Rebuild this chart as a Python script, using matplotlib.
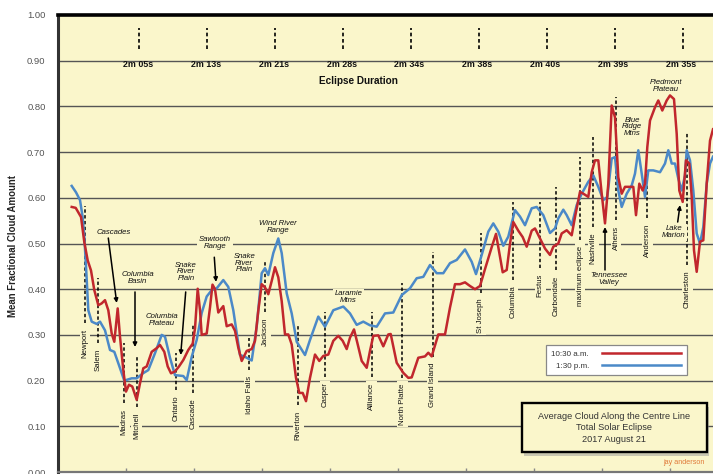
import matplotlib
matplotlib.use("Agg")
import matplotlib.pyplot as plt
from matplotlib.patches import Rectangle

plt.rcParams['font.family'] = ['Liberation Sans', 'DejaVu Sans']

# ---------------- data ----------------
# distance along the centre line (arbitrary units, west -> east)
x_pm = [13.7, 18, 22, 24.5, 26.3, 28.5, 30.3, 33.7, 38.7, 42,
        47, 52, 56.3, 60.3, 66.3, 73.7, 78.7, 85, 90.3, 97,
        103.7, 107, 112, 117, 125.3, 128.7, 133.7, 138.7, 143.7, 148.7,
        153.7, 158.7, 165.3, 170.3, 175.3, 182, 187, 193.7, 198.7, 203.7,
        207, 210.3, 215.3, 220.3, 223.7, 228.7, 233.7, 238.7, 247, 252,
        260.3, 267, 275.3, 285.3, 292, 298.7, 305.3, 312, 318.7, 327,
        335.3, 343.7, 352, 358.7, 365.3, 372, 378.7, 385.3, 392, 398.7,
        407, 413.7, 418, 423.7, 430.3, 435.3, 440.3, 445.3, 450.3, 457,
        462, 467, 473.7, 478.7, 485.3, 492, 497, 500.3, 505.3, 508.7,
        513.7, 518.7, 523.7, 530.3, 535.3, 540.3, 545.3, 549.3, 553.7, 557,
        560.3, 563.7, 568.7, 573.7, 577, 580.3, 583.7, 587, 590.3, 595.3,
        602, 607, 610.3, 613.7, 617, 620.3, 623.7, 627, 628.7, 632,
        635.3, 638.7, 642, 645.3, 648.7, 652, 655]
cloud_pm = [0.626, 0.612, 0.595, 0.56, 0.515, 0.43, 0.354, 0.329, 0.324, 0.329,
            0.31, 0.267, 0.263, 0.238, 0.2, 0.205, 0.205, 0.216, 0.223, 0.26,
            0.3, 0.296, 0.25, 0.212, 0.21, 0.201, 0.252, 0.289, 0.348, 0.384,
            0.398, 0.402, 0.42, 0.405, 0.354, 0.256, 0.252, 0.244, 0.318, 0.435,
            0.446, 0.431, 0.479, 0.511, 0.479, 0.391, 0.347, 0.285, 0.256, 0.289,
            0.34, 0.318, 0.354, 0.362, 0.347, 0.322, 0.329, 0.321, 0.318, 0.347,
            0.349, 0.387, 0.402, 0.424, 0.427, 0.453, 0.435, 0.435, 0.457, 0.464,
            0.487, 0.46, 0.433, 0.475, 0.526, 0.544, 0.526, 0.495, 0.515, 0.573,
            0.559, 0.54, 0.577, 0.58, 0.562, 0.523, 0.533, 0.555, 0.574, 0.562,
            0.54, 0.584, 0.609, 0.635, 0.649, 0.624, 0.595, 0.602, 0.686, 0.689,
            0.616, 0.58, 0.609, 0.627, 0.653, 0.704, 0.653, 0.602, 0.66, 0.66,
            0.656, 0.675, 0.704, 0.675, 0.675, 0.642, 0.616, 0.649, 0.704, 0.682,
            0.616, 0.522, 0.5, 0.536, 0.631, 0.675, 0.69]

x_am = [13.7, 17.7, 23, 26.3, 29.7, 33, 36.3, 40.3, 43.7, 47,
        50.3, 53.7, 56.3, 59.7, 62, 65.3, 68, 71, 74.3, 78.7,
        82, 85.3, 88.7, 93.7, 98.7, 102, 106.3, 109.7, 113, 117,
        121, 125.3, 130.3, 134.7, 137, 139.7, 142, 143.7, 148.7, 152,
        154.5, 157, 160.3, 165.3, 168.7, 173.7, 177, 180.3, 183.7, 188.7,
        193.7, 197, 200.3, 203.7, 207, 210.3, 213.7, 217, 220.3, 223.7,
        227, 230.3, 233.7, 238, 241.3, 244.7, 248, 252, 257, 261.3,
        265.3, 270.3, 275.3, 280.3, 284.7, 288.7, 292, 296, 299.3, 303.7,
        308.7, 312, 315.3, 320.3, 325.3, 330.3, 332.7, 338.7, 345.3, 350.3,
        353.7, 360.3, 367, 370.3, 373.7, 380.3, 387, 392, 397, 402,
        407, 412, 417, 422, 427, 433.7, 438, 442, 444.7, 448.7,
        452, 455.3, 460.3, 464.7, 468.7, 473.7, 477, 482, 487, 492,
        495.3, 500.3, 503.7, 508.7, 513.7, 517, 522, 525.3, 530.3, 533.7,
        537, 540.3, 543.7, 547, 550.3, 553.7, 557, 560.3, 563.7, 567,
        572, 575.3, 578, 581.3, 584.7, 587, 589.3, 592, 597, 600.3,
        604.3, 608.7, 612, 616, 618.7, 621.3, 624.7, 628, 631.3, 633.7,
        636, 638.7, 642, 645.3, 648.7, 652, 655]
cloud_am = [0.58, 0.578, 0.558, 0.503, 0.463, 0.441, 0.398, 0.365, 0.369, 0.376,
            0.354, 0.303, 0.285, 0.358, 0.296, 0.223, 0.176, 0.191, 0.187, 0.158,
            0.194, 0.227, 0.231, 0.263, 0.271, 0.278, 0.263, 0.231, 0.216, 0.22,
            0.231, 0.245, 0.267, 0.281, 0.314, 0.401, 0.354, 0.3, 0.303, 0.36,
            0.41, 0.40, 0.349, 0.363, 0.319, 0.323, 0.309, 0.272, 0.243, 0.265,
            0.269, 0.287, 0.353, 0.411, 0.404, 0.389, 0.418, 0.448, 0.426, 0.374,
            0.301, 0.301, 0.279, 0.206, 0.173, 0.173, 0.155, 0.206, 0.257, 0.243,
            0.254, 0.257, 0.287, 0.298, 0.287, 0.269, 0.294, 0.312, 0.283, 0.243,
            0.228, 0.265, 0.298, 0.299, 0.275, 0.301, 0.302, 0.239, 0.217, 0.206,
            0.207, 0.25, 0.253, 0.261, 0.253, 0.301, 0.301, 0.36, 0.411, 0.411,
            0.415, 0.407, 0.4, 0.407, 0.444, 0.492, 0.521, 0.47, 0.437, 0.442,
            0.499, 0.547, 0.528, 0.514, 0.493, 0.528, 0.533, 0.511, 0.489, 0.475,
            0.493, 0.5, 0.522, 0.529, 0.518, 0.558, 0.613, 0.609, 0.602, 0.656,
            0.682, 0.682, 0.609, 0.544, 0.631, 0.802, 0.776, 0.645, 0.609, 0.624,
            0.624, 0.624, 0.562, 0.631, 0.616, 0.631, 0.711, 0.769, 0.798, 0.813,
            0.791, 0.813, 0.824, 0.816, 0.74, 0.616, 0.591, 0.682, 0.675, 0.602,
            0.485, 0.438, 0.504, 0.507, 0.631, 0.725, 0.75]

series_labels = ["10:30 a.m.", "1:30 p.m."]

cities = ["Newport", "Salem", "Madras", "Mitchell", "Ontario", "Cascade",
          "Idaho Falls", "Jackson", "Riverton", "Casper", "Alliance",
          "North Platte", "Grand Island", "St Joseph", "Columbia", "Festus",
          "Carbondale", "maximum eclipse", "Nashville", "Athens", "Anderson",
          "Charleston"]
city_x = [27, 39.7, 66.3, 78.7, 117.7, 135.3, 191.3, 207.3, 240.3, 267, 313.7,
          344.3, 374.7, 423, 455, 482.3, 498, 522, 535.3, 558, 589.3, 629.3]
city_line_top = [0.582, 0.4245, 0.282, 0.252, 0.260, 0.322, 0.293, 0.460, 0.322,
                 0.350, 0.350, 0.414, 0.481, 0.523, 0.591, 0.591, 0.624, 0.689,
                 0.733, 0.821, 0.661, 0.742]
city_line_bottom = [0.326, 0.282, 0.151, 0.142, 0.179, 0.173, 0.223, 0.350, 0.147,
                    0.208, 0.208, 0.206, 0.252, 0.392, 0.420, 0.446, 0.442, 0.508,
                    0.536, 0.551, 0.556, 0.453]

durations = ["2m 05s", "2m 13s", "2m 21s", "2m 28s", "2m 34s", "2m 38s",
             "2m 40s", "2m 39s", "2m 35s"]
duration_x = [81.3, 149.3, 217.3, 285.3, 353, 421, 488.7, 557, 624.7]

features = ["Cascades", "Columbia\nBasin", "Columbia\nPlateau", "Snake\nRiver\nPlain",
            "Sawtooth\nRange", "Snake\nRiver\nPlain", "Wind River\nRange",
            "Laramie\nMtns", "Tennessee\nValley", "Blue\nRidge\nMtns",
            "Piedmont\nPlateau", "Lake\nMarion"]
feature_xy = [(56, 0.525), (79.7, 0.4245), (103.7, 0.333), (128, 0.438),
              (157, 0.501), (186.3, 0.457), (220.3, 0.536), (290.3, 0.383),
              (551, 0.422), (574.3, 0.755), (607.7, 0.845), (616, 0.525)]
# arrows: (start, end)
feature_arrows = [((50.3, 0.512), (58.7, 0.370)),
                  ((77, 0.394), (77, 0.2735)),
                  ((127.7, 0.394), (122.7, 0.256)),
                  ((156.3, 0.470), (158, 0.416)),
                  ((547, 0.442), (547, 0.536)),
                  ((619.7, 0.547), (622, 0.584))]

y_ticks = [0.0, 0.1, 0.2, 0.3, 0.4, 0.5, 0.6, 0.7, 0.8, 0.9, 1.0]
x_ticks = [68, 136, 204, 272, 340, 408, 476, 544, 612]

title_lines = "Average Cloud Along the Centre Line\nTotal Solar Eclipse\n2017 August 21"

# ---------------- styling ----------------
BG = '#FAF6CB'
RED = '#C1272D'
BLUE = '#4B89C8'
GRID = '#555555'

fig = plt.figure(figsize=(7.13, 4.74), dpi=100)
fig.patch.set_facecolor('white')
ax = fig.add_axes([58 / 713, 2 / 474, 655 / 713, 457 / 474])
ax.set_facecolor(BG)
ax.set_xlim(0, 655)
ax.set_ylim(0, 1)

for v in y_ticks[1:-1]:
    ax.axhline(v, color=GRID, lw=1.0, zorder=1)

ax.plot(x_pm, cloud_pm, color=BLUE, lw=1.8, zorder=5, label=series_labels[1],
        solid_joinstyle='round')
ax.plot(x_am, cloud_am, color=RED, lw=1.8, zorder=6, label=series_labels[0],
        solid_joinstyle='round')

# city markers
ax.vlines(city_x, city_line_bottom, city_line_top, colors='black',
          linestyles=(0, (2.2, 1.6)), lw=1.1, zorder=3)
for name, x, yb in zip(cities, city_x, city_line_bottom):
    ax.annotate(name, xy=(x, yb), xytext=(0, -4), textcoords='offset points',
                rotation=90, ha='center', va='top', fontsize=5.6, color='#111',
                zorder=4,
                bbox=dict(boxstyle='square,pad=0.25', fc=BG, ec='none'))

# feature annotations
for txt, (x, y) in zip(features, feature_xy):
    ax.text(x, y, txt, ha='center', va='center', multialignment='center',
            fontsize=5.6, style='italic', color='#111', linespacing=0.95,
            zorder=4, bbox=dict(boxstyle='square,pad=0.2', fc=BG, ec='none'))
for (x0, y0), (x1, y1) in feature_arrows:
    ax.annotate('', xy=(x1, y1), xytext=(x0, y0),
                arrowprops=dict(arrowstyle='-|>', color='black', lw=1.1,
                                mutation_scale=6, shrinkA=0, shrinkB=0),
                zorder=7)

# eclipse duration markers
ax.vlines(duration_x, 0.9256, 0.9716, colors='black', linestyles=(0, (2.2, 1.6)),
          lw=1.2, zorder=3)
for lab, x in zip(durations, duration_x):
    ax.text(x - 1.5, 0.8917, lab, ha='center', va='center', fontsize=6.4,
            fontweight='bold', color='#111', zorder=4)
ax.text(300, 0.8556, "Eclipse Duration", ha='center', va='center', fontsize=7.2,
        fontweight='bold', color='#111', zorder=4)

# axes cosmetics
ax.set_yticks(y_ticks)
ax.set_yticklabels([f"{v:.2f}" for v in y_ticks])
ax.tick_params(axis='y', length=0, pad=9, labelsize=6.8, labelcolor='#555')
ax.set_xticks(x_ticks)
ax.set_xticklabels([])
ax.tick_params(axis='x', direction='in', length=3, color='#888', width=1)
ax.spines['right'].set_visible(False)
ax.spines['top'].set_linewidth(2.6)
ax.spines['top'].set_color('black')
ax.spines['left'].set_linewidth(2.2)
ax.spines['left'].set_color('#333')
ax.spines['bottom'].set_linewidth(1.6)
ax.spines['bottom'].set_color('#777')
ax.set_ylabel("Mean Fractional Cloud Amount", fontsize=6.9, fontweight='bold',
              color='#222')
ax.yaxis.set_label_coords(-0.061, 0.494)

# legend
handles, labels = ax.get_legend_handles_labels()
leg = ax.legend(handles[::-1], labels[::-1], loc='upper left',
                bbox_to_anchor=(0.7446, 0.2779), bbox_transform=ax.transAxes,
                borderaxespad=0, fontsize=5.8, markerfirst=False,
                handlelength=9.8, handletextpad=1.6, borderpad=0.7,
                labelspacing=0.45, fancybox=False, framealpha=1,
                edgecolor='#888', facecolor='white')
leg.get_frame().set_linewidth(0.9)
leg.set_zorder(8)
for t in leg.get_texts():
    t.set_color('#333')

# title box
ax.add_patch(Rectangle((466, 0.036), 185, 0.107, transform=ax.transData,
                       fc='#999999', ec='none', alpha=0.5, zorder=8))
ax.add_patch(Rectangle((463.7, 0.0438), 185, 0.1072, transform=ax.transData,
                       fc=BG, ec='black', lw=1.7, zorder=9))
ax.text(556.2, 0.0963, title_lines, ha='center', va='center',
        multialignment='center', fontsize=6.6, color='#333', linespacing=1.35,
        zorder=10)

ax.text(626, 0.0197, "jay anderson", ha='center', va='center', fontsize=5.2,
        color='#E07A3A', zorder=10)

fig.savefig("out.png", dpi=100, facecolor='white')
